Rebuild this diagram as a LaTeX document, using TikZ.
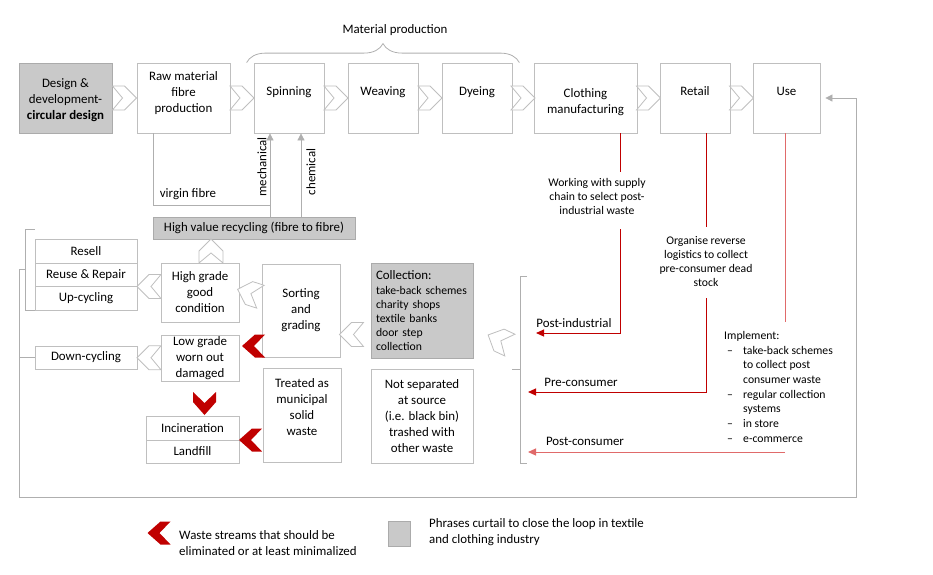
\documentclass[tikz,border=0pt]{standalone}
\usepackage{fontspec}
\setmainfont{Carlito}
\usetikzlibrary{arrows.meta,calc,decorations.pathreplacing}
\definecolor{boxgray}{HTML}{BFBFBF}
\definecolor{linegray}{HTML}{AFAFAF}
\definecolor{shade}{HTML}{C9C9C9}
\definecolor{wastered}{HTML}{C00000}
\definecolor{palered}{HTML}{E06A6A}
\newcommand{\bigtxt}{\fontsize{12.9}{16}\selectfont}
\newcommand{\smalltxt}{\fontsize{11.7}{14}\selectfont}
\newcommand{\dashitem}{\makebox[19pt][l]{\hspace{3pt}--}}
\newcommand{\noitem}{\makebox[19pt]{}}

\begin{document}
\begin{tikzpicture}[x=1pt,y=-1pt]
\tikzset{
  every node/.style={font=\bigtxt},
  box/.style={draw=boxgray, line width=0.8pt, fill=white, align=center, inner sep=0pt},
  shaded/.style={box, fill=shade, draw=shade!85!black},
  toptext/.style={text depth=13pt},
  gline/.style={draw=linegray, line width=0.8pt},
  garrow/.style={gline, -{Triangle[length=7pt,width=7pt]}},
  redline/.style={draw=wastered, line width=1pt},
  redarrow/.style={redline, -{Triangle[length=8pt,width=7pt]}},
  palearrow/.style={redarrow, draw=palered},
  chev/.pic={\draw[draw=boxgray, fill=white, line width=0.8pt] (-12,-12) -- (0,-12) -- (12,0) -- (0,12) -- (-12,12) -- (-2,0) -- cycle;},
  redchev/.pic={\fill[wastered] (-11.5,-11.5) -- (-1.5,-11.5) -- (11.5,0) -- (-1.5,11.5) -- (-11.5,11.5) -- (-0.5,0) -- cycle;},
}
\useasboundingbox (0,0) rectangle (933,574);

% main chain
\node[shaded, minimum width=93, minimum height=70, text height=46pt] (design) at (65.5,98) {Design \&\\development-\\\textbf{circular design}};
\node[box, minimum width=93, minimum height=70, text depth=11pt] (raw) at (183.5,98) {Raw material\\fibre\\production};
\node[box, toptext, minimum width=70, minimum height=70] (spin) at (289,98) {Spinning};
\node[box, toptext, minimum width=70, minimum height=70] (weave) at (383,98) {Weaving};
\node[box, toptext, minimum width=70, minimum height=70] (dye) at (477,98) {Dyeing};
\node[box, minimum width=103, minimum height=70, text height=33pt] (cloth) at (585.5,98) {Clothing\\manufacturing};
\node[box, toptext, minimum width=70, minimum height=70] (retail) at (695,98) {Retail};
\node[box, toptext, minimum width=67, minimum height=70] (use) at (786.5,98) {Use};

\foreach \a/\b in {design/raw, raw/spin, spin/weave, weave/dye, dye/cloth, cloth/retail, retail/use}
  \pic at ($(\a.east)!.5!(\b.west)$) {chev};

\draw[gline, decorate, decoration={brace, amplitude=19pt}] ([xshift=-7pt]spin.north west) -- ([xshift=7pt]dye.north east);
\node (matprod) at (395,30) {Material production};

% fibre supply
\node[shaded, minimum width=202, minimum height=22] (hvr) at (254,228) {High value recycling (fibre to fibre)};
\draw[gline] ([xshift=-30.5pt]raw.south) |- ([xshift=-19pt,yshift=-72pt]spin.south);
\draw[garrow] ([xshift=16pt]hvr.north) -- ([xshift=-19pt]spin.south);
\draw[garrow] ([xshift=47pt]hvr.north) -- ([xshift=12pt]spin.south);
\node (virgin) at (188,194) {virgin fibre};
\node[rotate=90] (mech) at (262,167) {mechanical};
\node[rotate=90] (chem) at (311,172) {chemical};

% reuse side
\node[box, minimum width=102, minimum height=23.7] (resell) at (86,251.2) {Resell};
\node[box, minimum width=102, minimum height=23.7] (reuse) at (86,274.9) {Reuse \& Repair};
\node[box, minimum width=102, minimum height=23.7] (upcyc) at (86,298.6) {Up-cycling};
\node[box, minimum width=102, minimum height=23] (downcyc) at (86,357.5) {Down-cycling};
\node[box, minimum width=78, minimum height=59] (high) at (200,292.5) {High grade\\good\\condition};
\node[box, minimum width=78, minimum height=46] (low) at (200,358) {Low grade\\worn out\\damaged};
\node[box, minimum width=93, minimum height=24] (incin) at (192.5,428) {Incineration};
\node[box, minimum width=93, minimum height=23] (landfill) at (192.5,451.5) {Landfill};
\node[box, minimum width=78, minimum height=93] (sort) at (301,310.5) {Sorting\\and\\grading};
\node[box, minimum width=78, minimum height=94] (treated) at (302,415) {Treated as\\municipal\\solid\\waste\\\mbox{}};
\node[shaded, font=\smalltxt, minimum width=102, minimum height=95, text width=92pt, align=left, inner xsep=5pt] (collect) at (422,310.5)
  {{\bigtxt Collection:}\\[1pt]take-back schemes\\charity shops\\textile banks\\door step\\collection};
\node[box, minimum width=102, minimum height=94] (notsep) at (422,416) {Not separated\\at source\\(i.e. black bin)\\trashed with\\other waste};

\pic[rotate=90] at (211,251) {chev};
\pic[rotate=180] at (149,286.5) {chev};
\pic[rotate=180] at ($(downcyc.east)!.5!(low.west)$) {chev};
\pic[rotate=162] at (249,293) {chev};
\pic[rotate=180] at (351.5,334.5) {chev};
\pic[rotate=155] at (499,340) {chev};

\pic[rotate=180] at (253.5,346) {redchev};
\pic[rotate=-90] at (204.5,403.5) {redchev};
\pic[rotate=180] at (250.5,440) {redchev};

% brackets and loop
\draw[gline] ([yshift=10pt]resell.north west) -- ++(-9,0) |- (upcyc.south west);
\coordinate (brk) at (26,269);
\draw[garrow] (brk) -- ++(-7,0) |- (856,497) |- ([xshift=5pt]use.east);
\draw[gline] (downcyc.west) -- ++(-16,0);
\draw[gline] (527,276) -- (520,276) -- (520,463) -- (527,463);
\draw[gline] (520,369) -- (512,369);

% waste streams
\coordinate (pi) at (536,333);
\coordinate (pc) at (528,392);
\coordinate (po) at (528,452);
\draw[redline] ([xshift=34.5pt]cloth.south) -- ++(0,39);
\draw[redarrow] ([xshift=34.5pt,yshift=-96pt]cloth.south) |- (pi);
\draw[redline] ([xshift=11pt]retail.south) -- ++(0,94);
\draw[redarrow] ([xshift=11pt,yshift=-165pt]retail.south) |- (pc);
\draw[redline, draw=palered] ([xshift=-1.5pt]use.south) -- ++(0,189);
\draw[palearrow] ([xshift=-1.5pt]use.south |- po) -- (po);

\node[font=\smalltxt, align=center] (supply) at (597,196.5) {Working with supply\\chain to select post-\\industrial waste};
\node[font=\smalltxt, align=center] (reverse) at (706,261.5) {Organise reverse\\logistics to collect\\pre-consumer dead\\stock};
\node[anchor=north west, align=left, inner sep=0pt, font=\fontsize{11.7}{14.7}\selectfont] (impl) at (724,331)
  {Implement:\\\dashitem take-back schemes\\\noitem to collect post\\\noitem consumer waste\\\dashitem regular collection\\\noitem systems\\\dashitem in store\\\dashitem e-commerce};
\node (postind) at (574,323) {Post-industrial};
\node (precons) at (581,382) {Pre-consumer};
\node (postcons) at (585,441) {Post-consumer};

% legend
\pic[rotate=180] at (159,533) {redchev};
\node[anchor=west, align=left] (legwaste) at (175.7,543) {Waste streams that should be\\eliminated or at least minimalized};
\node[shaded, minimum width=22, minimum height=25] (legbox) at (399,533.5) {};
\node[anchor=west, align=left] (legloop) at (425.7,532) {Phrases curtail to close the loop in textile\\and clothing industry};
\end{tikzpicture}
\end{document}
